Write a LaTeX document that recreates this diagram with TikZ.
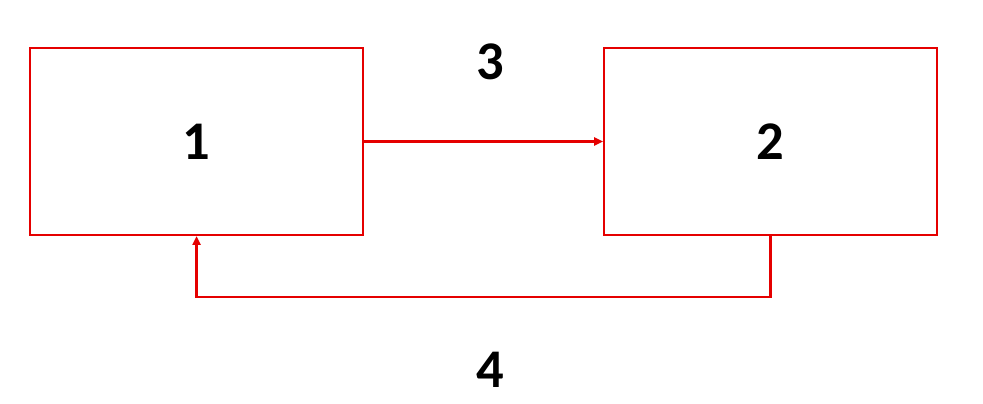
\documentclass[tikz,border=0pt]{standalone}
\usepackage{fontspec}
\setmainfont{Carlito}
\usetikzlibrary{positioning,arrows.meta}
\begin{document}
\begin{tikzpicture}[x=0.02cm, y=-0.02cm,
		blokk/.style={draw=red!90!black, line width=1.2pt, minimum width=6.66cm, minimum height=3.74cm, inner sep=0pt, font=\fontsize{31}{36}\selectfont\bfseries},
		pil/.style={red!90!black, line width=1.2pt, -{Triangle[length=5pt,width=4.5pt]}},
		tall/.style={font=\fontsize{31}{36}\selectfont\bfseries}]
		\useasboundingbox (0,0) rectangle (983,403);
		% Blokkene
		\node[blokk] (b1) at (196.5,141.5) {1};
		\node[blokk, right=4.78cm of b1] (b2) {2};

		% Forover og tilbake
		\draw[pil] (b1.east) -- (b2.west);
		\coordinate (ned) at ([yshift=-1.22cm]b2.south);
		\draw[pil] (b2.south) -- (ned) -| (b1.south);

		% Etiketter
		\node[tall] (t3) at (490,62) {3};
		\node[tall] (t4) at (490,370) {4};
	\end{tikzpicture}
\end{document}
